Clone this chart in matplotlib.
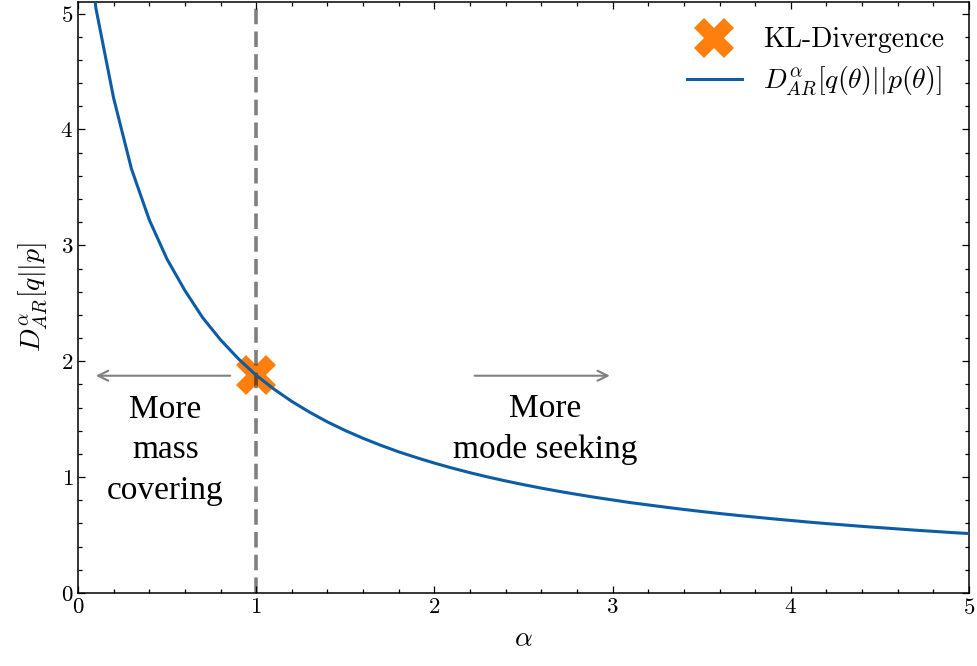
import matplotlib
matplotlib.use("Agg")
import matplotlib.pyplot as plt
from matplotlib.ticker import MultipleLocator, AutoMinorLocator

alpha_vals = [0.05, 0.1, 0.2, 0.3, 0.4, 0.5, 0.6, 0.7, 0.8, 0.9, 1.0,
              1.1, 1.2, 1.3, 1.4, 1.5, 1.6, 1.7, 1.8, 1.9, 2.0,
              2.1, 2.2, 2.3, 2.4, 2.5, 2.6, 2.7, 2.8, 2.9, 3.0,
              3.1, 3.2, 3.3, 3.4, 3.5, 3.6, 3.7, 3.8, 3.9, 4.0,
              4.1, 4.2, 4.3, 4.4, 4.5, 4.6, 4.7, 4.8, 4.9, 5.0]
div_vals = [5.8, 5.05, 4.27, 3.66, 3.22, 2.88, 2.61, 2.375, 2.185, 2.021, 1.879,
            1.759, 1.653, 1.560, 1.476, 1.402, 1.335, 1.274, 1.218, 1.168, 1.121,
            1.078, 1.038, 1.001, 0.967, 0.935, 0.905, 0.877, 0.851, 0.826, 0.803,
            0.780, 0.760, 0.740, 0.721, 0.703, 0.686, 0.670, 0.655, 0.640, 0.626,
            0.612, 0.599, 0.587, 0.575, 0.564, 0.553, 0.542, 0.532, 0.522, 0.513]
kl_alpha = [1.0]
kl_value = [1.88]

plt.rcParams['mathtext.fontset'] = 'cm'
plt.rcParams['font.family'] = ['cmr10', 'DejaVu Serif']
plt.rcParams['axes.formatter.use_mathtext'] = True
plt.rcParams['axes.unicode_minus'] = False

fig = plt.figure(figsize=(9.77, 6.66), dpi=100)
ax = fig.add_axes([78/977, 1-593/666, (969-78)/977, (593-2)/666])

ax.plot(kl_alpha, kl_value, linestyle='none', marker='X', markersize=29,
        color='#ff7f0e', markeredgewidth=0, label='KL-Divergence', zorder=2)
ax.axvline(1.0, color='black', alpha=0.5, lw=2.6, linestyle=(0, (4.3, 2.0)), zorder=3)
ax.plot(alpha_vals, div_vals, color='#0C5DA5', lw=2.2,
        label=r'$D_{AR}^{\alpha}[q(\theta)||p(\theta)]$', zorder=4)

ax.annotate('', xy=(0.085, 1.875), xytext=(0.87, 1.875),
            arrowprops=dict(arrowstyle='->', color='gray', lw=1.5, mutation_scale=18))
ax.annotate('', xy=(3.0, 1.875), xytext=(2.21, 1.875),
            arrowprops=dict(arrowstyle='->', color='gray', lw=1.5, mutation_scale=18))

ax.text(0.49, 1.235, 'More\nmass\ncovering', ha='center', va='center',
        fontsize=24, family='Liberation Serif', linespacing=1.42)
ax.text(2.62, 1.41, 'More\nmode seeking', ha='center', va='center',
        fontsize=24, family='Liberation Serif', linespacing=1.42)

ax.set_xlim(0, 5)
ax.set_ylim(0, 5.1)
ax.xaxis.set_major_locator(MultipleLocator(1))
ax.yaxis.set_major_locator(MultipleLocator(1))
ax.xaxis.set_minor_locator(AutoMinorLocator(5))
ax.yaxis.set_minor_locator(AutoMinorLocator(5))
ax.tick_params(which='both', direction='in', top=True, right=True, labelsize=16.5)
ax.tick_params(which='major', length=5, width=0.9)
ax.tick_params(which='minor', length=2.8, width=0.9)
for s in ax.spines.values():
    s.set_linewidth(1.1)

ax.set_xlabel(r'$\alpha$', fontsize=20, labelpad=6)
ax.set_ylabel(r'$D_{AR}^{\alpha}[q||p]$', fontsize=20, labelpad=8)

ax.legend(loc='upper right', frameon=False, fontsize=20, handlelength=2.0,
          borderaxespad=0.5, labelspacing=0.42, handletextpad=0.75)

fig.savefig('out.png', dpi=100)
